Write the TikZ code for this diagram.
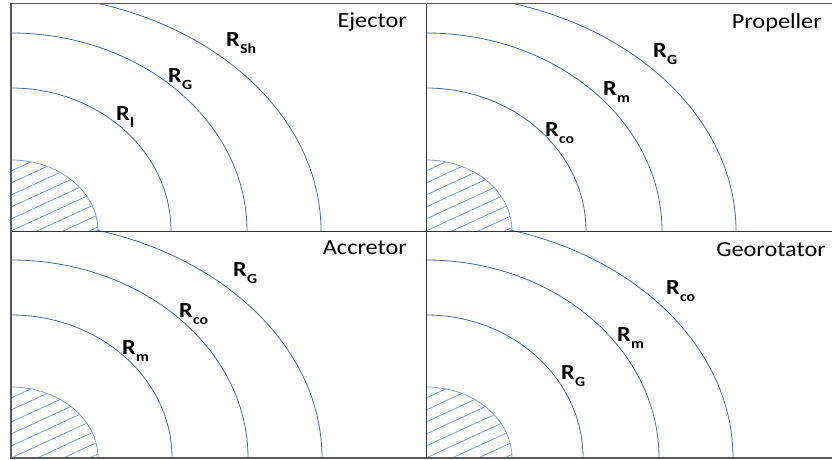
\documentclass[tikz,border=0pt]{standalone}
\usepackage{fontspec}
\setmainfont{Carlito}[FakeStretch=1.13]
\definecolor{arcblue}{RGB}{68,104,160}
\definecolor{hatchblue}{RGB}{110,150,220}
\definecolor{framegray}{RGB}{89,89,89}
\newcommand\radlab[2]{R\kern0.3pt\raisebox{-6.5pt}{\fontsize{14}{14}\selectfont #2}}
\begin{document}
\begin{tikzpicture}[x=1pt,y=1pt,
  arcline/.style={draw=arcblue,line width=0.8pt},
  hatchline/.style={draw=hatchblue,line width=0.7pt},
  frameline/.style={draw=framegray,line width=1.6pt},
  divline/.style={draw=black!80,line width=0.8pt},
  title/.style={anchor=base east,inner sep=0pt,font=\fontsize{21.5}{21.5}\selectfont},
  rlab/.style={anchor=base west,inner sep=0pt,font=\bfseries\fontsize{21.5}{21.5}\selectfont}]
\useasboundingbox (0,0) rectangle (832,460);
\fill[white] (0,0) rectangle (832,460);
% panels
\foreach \ox/\oy/\tp/\rt/\h/\a/\b/\c in {11/229/456.5/426/87/160/236/310, 426/229/456.5/832/86/160/236/310, 11/2/229/426/87/161/237/311, 426/2/229/832/86/157/233/307}{
  \begin{scope}
    \clip (\ox,\oy) rectangle (\rt,\tp);
    \begin{scope}
      \clip (\ox,\oy) -- (\ox+\h,\oy) arc[start angle=0,end angle=90,x radius=\h,y radius=71] -- cycle;
      \foreach \k in {-5,...,7}{\draw[hatchline] (\ox,\oy+\k*12) -- ++(110,50.6);}
    \end{scope}
    \draw[hatchline] (\ox+\h,\oy) arc[start angle=0,end angle=90,x radius=\h,y radius=71];
    \draw[arcline] (\ox+\a,\oy) arc[start angle=0,end angle=90,x radius=\a,y radius=143];
    \draw[arcline] (\ox+\b,\oy) arc[start angle=0,end angle=90,x radius=\b,y radius=198];
    \draw[arcline] (\ox+\c,\oy) arc[start angle=0,end angle=90,x radius=\c,y radius=237];
  \end{scope}
}
% frame and dividers
\coordinate (tl) at (11,456.5);
\coordinate (tr) at (832,456.5);
\coordinate (bl) at (11,2);
\coordinate (br) at (832,2);
\coordinate (mt) at (426,456.5);
\coordinate (mb) at (426,2);
\coordinate (ml) at (11,229);
\coordinate (mr) at (832,229);
\draw[divline] (mt) -- (mb);
\draw[divline] (ml) -- (mr);
\draw[frameline] (tr) -- (tl) -- (bl) -- (br);
% titles
\node[title] (t1) at (407,432) {Ejector};
\node[title] (t2) at (822,431) {Propeller};
\node[title] (t3) at (407,205) {Accretor};
\node[title] (t4) at (826,203.5) {Georotator};
% labels
\node[rlab] (a1) at (226,413) {\radlab{R}{Sh}};
\node[rlab] (a2) at (168,377) {\radlab{R}{G}};
\node[rlab] (a3) at (116,339) {\radlab{R}{l}};
\node[rlab] (b1) at (653,402) {\radlab{R}{G}};
\node[rlab] (b2) at (603,364) {\radlab{R}{m}};
\node[rlab] (b3) at (545,323) {\radlab{R}{co}};
\node[rlab] (c1) at (233,183) {\radlab{R}{G}};
\node[rlab] (c2) at (179,142) {\radlab{R}{co}};
\node[rlab] (c3) at (122,105) {\radlab{R}{m}};
\node[rlab] (d1) at (666,165) {\radlab{R}{co}};
\node[rlab] (d2) at (617,118) {\radlab{R}{m}};
\node[rlab] (d3) at (561,80) {\radlab{R}{G}};
\end{tikzpicture}
\end{document}
